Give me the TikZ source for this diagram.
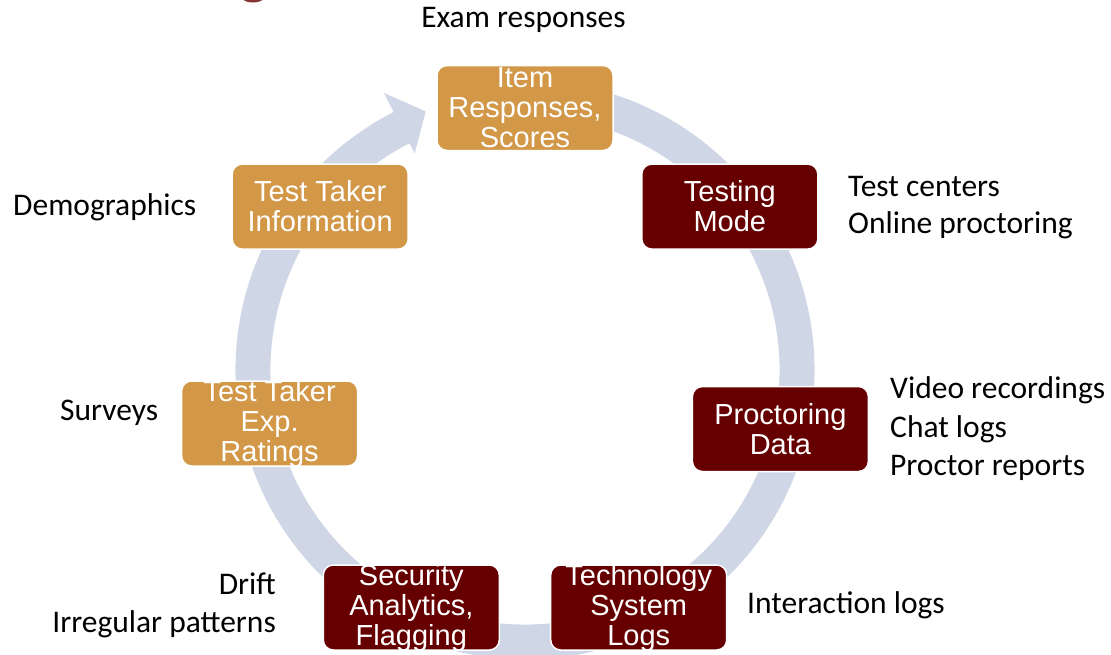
\documentclass[tikz,border=0pt]{standalone}
\usepackage{fontspec}
\setmainfont{Carlito}
\newfontfamily\boxfont{Liberation Sans}
\definecolor{ringcol}{HTML}{CFD6E6}
\definecolor{goldcol}{HTML}{D29848}
\definecolor{maroon}{HTML}{660000}
\begin{document}
\begin{tikzpicture}[x=1pt,y=1pt,
  box/.style={draw=white,line width=1.5pt,rounded corners=10pt,minimum width=176pt,minimum height=85pt,inner sep=0pt},
  goldbox/.style={box,fill=goldcol},
  redbox/.style={box,fill=maroon},
  boxtext/.style={text=white,align=center,font=\boxfont\fontsize{29}{30}\selectfont,inner sep=0pt},
  lab/.style={text=black,inner sep=0pt,font=\fontsize{31.5}{38}\selectfont}
]
\useasboundingbox (0,0) rectangle (1111,-654);
% partial logo at top edge
\fill[maroon!80] (253,1.5) ellipse (10pt and 4pt);
% ring with arrowhead
\begin{scope}[shift={(525,-370)}]
\fill[ringcol] (80:289.5) arc[start angle=80,end angle=-243,radius=289.5]
  -- (117:311) -- (111:277) -- (117:243) -- (117:254.5)
  arc[start angle=-243,end angle=80,radius=254.5] -- cycle;
\end{scope}
% boxes
\node[goldbox] (item) at (525,-108) {};
\node[boxtext] at (item) {Item\\Responses,\\Scores};
\node[redbox] (mode) at (729.8,-206.6) {};
\node[boxtext] at (mode) {Testing\\Mode};
\node[redbox] (proc) at (780.4,-429) {};
\node[boxtext] at (proc) {Proctoring\\Data};
\node[redbox] (tech) at (638.7,-607.5) {};
\node[boxtext] at (tech) {Technology\\System\\Logs};
\node[redbox] (sec) at (411.3,-607.5) {};
\node[boxtext] at (sec) {Security\\Analytics,\\Flagging};
\node[goldbox] (exp) at (269.6,-423.5) {};
\node[boxtext] at (exp) {Test Taker\\Exp.\\Ratings};
\node[goldbox] (info) at (320.2,-206.6) {};
\node[boxtext] at (info) {Test Taker\\Information};
% labels
\node[lab,anchor=base] (l1) at (523.5,-27) {Exam responses};
\node[lab,anchor=base west] (l2) at (848,-196) {Test centers};
\node[lab,anchor=base west] (l3) at (848,-233) {Online proctoring};
\node[lab,anchor=base west] (l4) at (890,-398) {Video recordings};
\node[lab,anchor=base west] (l5) at (890,-437) {Chat logs};
\node[lab,anchor=base west] (l6) at (890,-475) {Proctor reports};
\node[lab,anchor=base west] (l7) at (747,-613) {Interaction logs};
\node[lab,anchor=base east] (l8) at (276,-594) {Drift};
\node[lab,anchor=base east] (l9) at (276,-632) {Irregular patterns};
\node[lab,anchor=base west] (l10) at (60,-420) {Surveys};
\node[lab,anchor=base west] (l11) at (13,-215) {Demographics};
\end{tikzpicture}
\end{document}
